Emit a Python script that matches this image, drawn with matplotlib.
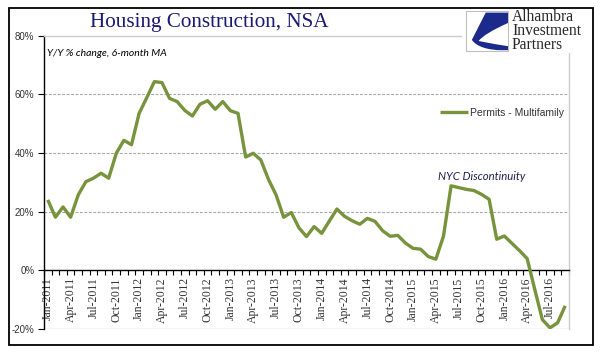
import matplotlib
matplotlib.use("Agg")
import matplotlib.pyplot as plt
import numpy as np
from matplotlib.patches import Rectangle, PathPatch
from matplotlib.path import Path

# ---------------- data ----------------
series_name = "Permits - Multifamily"
values = [24.0, 18.1, 21.6, 18.1, 25.7, 30.2, 31.4, 33.1, 31.4, 39.9, 44.3, 42.8,
          53.5, 58.8, 64.3, 64.0, 58.6, 57.5, 54.5, 52.6, 56.6, 57.8, 54.9, 57.5,
          54.4, 53.5, 38.6, 39.9, 37.6, 31.0, 25.7, 18.1, 19.7, 14.5, 11.5, 14.9,
          12.6, 16.8, 20.9, 18.4, 16.9, 15.7, 17.7, 16.7, 13.5, 11.6, 11.9, 9.3,
          7.5, 7.2, 4.7, 3.8, 11.6, 28.8, 28.2, 27.6, 27.2, 25.9, 24.2, 10.6,
          11.7, 9.2, 6.7, 4.0, -6.5, -16.8, -19.6, -17.9, -12.1]
tick_labels = ["Jan-2011", "Apr-2011", "Jul-2011", "Oct-2011",
               "Jan-2012", "Apr-2012", "Jul-2012", "Oct-2012",
               "Jan-2013", "Apr-2013", "Jul-2013", "Oct-2013",
               "Jan-2014", "Apr-2014", "Jul-2014", "Oct-2014",
               "Jan-2015", "Apr-2015", "Jul-2015", "Oct-2015",
               "Jan-2016", "Apr-2016", "Jul-2016"]
y_ticks = [-20, 0, 20, 40, 60, 80]
title = "Housing Construction, NSA"
subtitle = "Y/Y % change, 6-month MA"
annotation = "NYC Discontinuity"
logo_lines = ["Alhambra", "Investment", "Partners"]

# ---------------- figure ----------------
W, H = 605, 361
fig = plt.figure(figsize=(W / 100, H / 100), dpi=100)
fig.patch.set_facecolor("white")

def fx(px):
    return px / W

def fy(py):
    return 1 - py / H

ax_left, ax_right, ax_top, ax_bot = 44, 569, 35.6, 329
ax = fig.add_axes([fx(ax_left), fy(ax_bot), (ax_right - ax_left) / W, (ax_bot - ax_top) / H])

n = len(values)
x = np.arange(n)
green = "#77933C"
line, = ax.plot(x, values, color=green, lw=2.4, solid_joinstyle="round",
                solid_capstyle="butt", zorder=3, label=series_name)

ax.set_xlim(-0.5, n - 0.5)
ax.set_ylim(-20, 80)

# gridlines
for v in [20, 40, 60]:
    ax.axhline(v, color="#a6a6a6", lw=0.8, ls=(0, (2.5, 1.5)), zorder=1)
ax.axhline(-20, color="#d0d0d0", lw=1.0, zorder=1)

# spines
for s in ["top", "right"]:
    ax.spines[s].set_color("#cccccc")
    ax.spines[s].set_linewidth(1.0)
ax.spines["left"].set_color("black")
ax.spines["left"].set_linewidth(1.0)
ax.spines["bottom"].set_position(("data", 0))
ax.spines["bottom"].set_color("black")
ax.spines["bottom"].set_linewidth(1.0)

# y ticks
ax.set_yticks(y_ticks)
ax.set_yticklabels([f"{v}%" for v in y_ticks], fontfamily="Liberation Sans")
ax.tick_params(axis="y", length=4, width=0.8, direction="out", pad=3,
               labelsize=7, labelcolor="#333333", color="black")

# x ticks: minor ticks at category boundaries, labels every 3 months
ax.set_xticks(np.arange(0, n, 3)[:len(tick_labels)])
ax.set_xticklabels(tick_labels, rotation=90, fontfamily="Liberation Serif")
ax.set_xticks(np.arange(-0.5, n + 0.5, 1), minor=True)
ax.tick_params(axis="x", which="major", length=0, pad=5, labelsize=8.5,
               labelcolor="#333333")
ax.tick_params(axis="x", which="minor", length=3.5, width=0.8, direction="out",
               color="black")

# legend
leg = ax.legend(handles=[line], loc="center left",
                bbox_to_anchor=(fx(440), fy(113)), bbox_transform=fig.transFigure,
                frameon=False, borderpad=0, borderaxespad=0, handlelength=2.7,
                handletextpad=0.15, prop={"family": "Liberation Sans", "size": 7.5})
for t in leg.get_texts():
    t.set_color("#333333")

# texts
fig.text(fx(209), fy(22), title, ha="center", va="center", fontsize=15.2,
         family="Liberation Serif", color="#1A1A70")
fig.text(fx(47), fy(53), subtitle, ha="left", va="center", fontsize=7.5,
         family="Lato", style="italic", color="black")
fig.text(fx(438), fy(177), annotation, ha="left", va="center", fontsize=8.2,
         family="Lato", style="italic", color="#1F1F50")

# logo area
lax = fig.add_axes([fx(462), fy(53), (591 - 462) / W, (53 - 9) / H], zorder=5)
lax.set_xlim(462, 591)
lax.set_ylim(53, 9)
lax.set_facecolor("white")
lax.axis("off")
lax.add_patch(Rectangle((462, 9), 129, 44, facecolor="white", edgecolor="none", zorder=0))
bx0, by0, bw, bh = 466, 11, 42, 40
lax.add_patch(Rectangle((bx0, by0), bw, bh, facecolor="white", edgecolor="#c0c0c0", lw=0.8, zorder=1))

def lp(u, v):
    return (bx0 + u * bw, by0 + v * bh)

verts = [lp(0.47, 0.04), lp(1.0, 0.04), lp(1.0, 0.30),
         lp(0.62, 0.48), lp(0.40, 0.62), lp(0.30, 0.75),
         lp(0.55, 0.80), lp(0.80, 0.85), lp(1.0, 0.88),
         lp(1.0, 0.98), lp(0.85, 0.98),
         lp(0.55, 0.98), lp(0.25, 0.90), lp(0.14, 0.72),
         lp(0.47, 0.04)]
codes = [Path.MOVETO, Path.LINETO, Path.LINETO,
         Path.CURVE4, Path.CURVE4, Path.CURVE4,
         Path.CURVE4, Path.CURVE4, Path.CURVE4,
         Path.LINETO, Path.LINETO,
         Path.CURVE4, Path.CURVE4, Path.CURVE4,
         Path.LINETO]
lax.add_patch(PathPatch(Path(verts, codes), facecolor="#1C2A8C", edgecolor="none", zorder=2))
lax.text(512, 31, "\n".join(logo_lines), ha="left", va="center", fontsize=11.2,
         family="Liberation Serif", color="#262626", linespacing=0.82)

# outer frame
fig.patches.append(Rectangle((fx(9), fy(345)), (593 - 9) / W, (345 - 7.5) / H,
                             transform=fig.transFigure, fill=False,
                             edgecolor="black", lw=1.3, zorder=10))

fig.savefig("out.png", dpi=100, facecolor="white")
